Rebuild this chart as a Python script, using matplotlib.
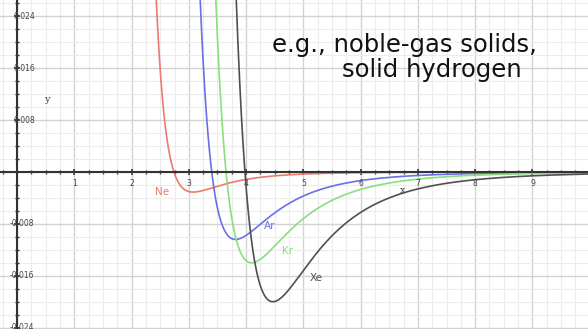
import numpy as np
import matplotlib
matplotlib.use("Agg")
import matplotlib.pyplot as plt
from matplotlib.ticker import MultipleLocator

# Lennard-Jones parameters (sigma in Angstrom, epsilon in eV)
elements = ["Ne", "Ar", "Kr", "Xe"]
sigma = [2.74, 3.40, 3.65, 3.98]
epsilon = [0.0031, 0.0104, 0.0140, 0.0200]
colors = ["#ec7a6e", "#6b6fe6", "#86e07c", "#505050"]
label_pos = [(2.53, -0.0031), (4.42, -0.0083), (4.73, -0.0122), (5.22, -0.0163)]

x_tick_labels = ["1", "2", "3", "4", "5", "6", "7", "8", "9"]
y_tick_values = [0.024, 0.016, 0.008, -0.008, -0.016, -0.024]
y_tick_labels = ["0.024", "0.016", "0.008", "-0.008", "-0.016", "-0.024"]

fig = plt.figure(figsize=(5.88, 3.29), dpi=100)
ax = fig.add_axes([0, 0, 1, 1])
ax.set_xlim(-0.297, 9.97)
ax.set_ylim(-0.0242, 0.0265)

# grid
ax.xaxis.set_major_locator(MultipleLocator(1))
ax.xaxis.set_minor_locator(MultipleLocator(0.25))
ax.yaxis.set_major_locator(MultipleLocator(0.008))
ax.yaxis.set_minor_locator(MultipleLocator(0.002))
ax.grid(which="major", color="#d2d2d2", lw=1.0)
ax.grid(which="minor", color="#ececec", lw=0.8)
ax.set_axisbelow(True)

# axes through the origin
for s in ["top", "right"]:
    ax.spines[s].set_visible(False)
ax.spines["left"].set_position(("data", 0))
ax.spines["bottom"].set_position(("data", 0))
ax.spines["left"].set_color("#333333")
ax.spines["bottom"].set_color("#333333")
ax.spines["left"].set_linewidth(1.5)
ax.spines["bottom"].set_linewidth(1.5)
ax.tick_params(which="both", direction="inout", color="#333333",
               labelleft=False, labelbottom=False)
ax.tick_params(which="major", length=5, width=1.2)
ax.tick_params(which="minor", length=3, width=1.0)

# potential curves
r = np.linspace(1.5, 10.5, 3000)
for el, s, e, c, (lx, ly) in zip(elements, sigma, epsilon, colors, label_pos):
    v = 4 * e * ((s / r) ** 12 - (s / r) ** 6)
    ax.plot(r, v, color=c, lw=1.2, clip_on=True)
    ax.text(lx, ly, el, color=c, fontsize=7.5, ha="center", va="center")

# tick labels
for i, t in enumerate(x_tick_labels):
    ax.text(i + 1, -0.0018, t, fontsize=5.5, color="#444444", ha="center", va="center")
for v, t in zip(y_tick_values, y_tick_labels):
    ax.text(-0.07 if v > 0 else -0.13, v, t, fontsize=5.5, color="#444444",
            ha="left", va="center")

ax.text(0.52, 0.0111, "y", fontsize=7, color="#444444", family="DejaVu Serif",
        ha="center", va="center")
ax.text(6.74, -0.0028, "x", fontsize=7, color="#444444", family="DejaVu Serif",
        ha="center", va="center")

ax.text(4.45, 0.01954, "e.g., noble-gas solids,", fontsize=17.5, color="#111111",
        ha="left", va="center")
ax.text(5.67, 0.01569, "solid hydrogen", fontsize=17.5, color="#111111",
        ha="left", va="center")

fig.savefig("out.png", dpi=100)
